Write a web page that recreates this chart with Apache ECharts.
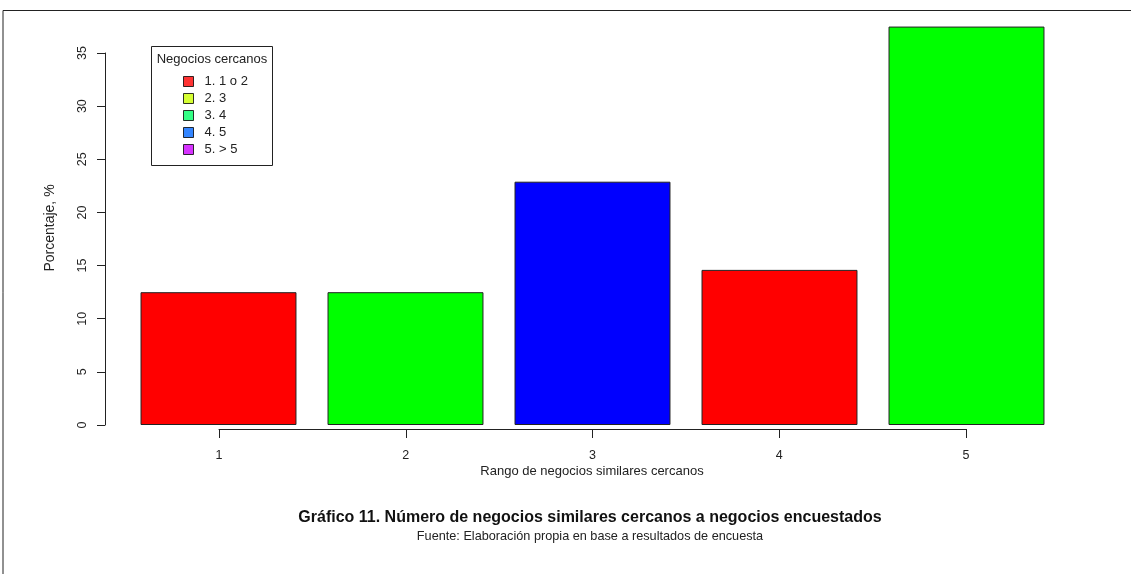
<!DOCTYPE html>
<html><head><meta charset="utf-8">
<script src="https://cdn.jsdelivr.net/npm/echarts@6/dist/echarts.min.js"></script>
<style>html,body{margin:0;padding:0;background:#fff}#c{width:1131px;height:574px}</style>
</head><body><div id="c"></div>
<script>
const categories = ['1','2','3','4','5'];
const values = [12.5, 12.5, 22.9, 14.6, 37.5];
const barColors = ['#FF0000','#00FF00','#0000FF','#FF0000','#00FF00'];
const legendNames = ['1. 1 o 2','2. 3','3. 4','4. 5','5. > 5'];
const legendColors = ['#FF0000','#CCFF00','#00FF66','#0066FF','#CC00FF'];
const yTicks = [0,5,10,15,20,25,30,35];

const FONT = '"Liberation Sans", Arial, sans-serif';
const chart = echarts.init(document.getElementById('c'));

const dummy = legendNames.map((n,i)=>({
  name:n, type:'scatter', xAxisIndex:1, yAxisIndex:1, data:[],
  itemStyle:{color:legendColors[i], borderColor:'#000', borderWidth:1}
}));

chart.setOption({
  animation:false,
  backgroundColor:'#fff',
  textStyle:{fontFamily:FONT},
  grid:[
    {left:125, right:71, top:0, bottom:149},
    {left:219, right:165, top:53, bottom:149},
    {left:219, right:165, top:53, bottom:145}
  ],
  xAxis:[
    {type:'category', gridIndex:0, data:categories, show:false},
    {type:'value', gridIndex:1, min:1, max:5, interval:1, show:false},
    {type:'value', gridIndex:2, min:1, max:5, interval:1,
     axisLine:{show:true, lineStyle:{color:'#222', width:1}},
     axisTick:{show:true, length:9, lineStyle:{color:'#222'}},
     axisLabel:{margin:20, fontSize:12.5, color:'#222', fontFamily:FONT},
     splitLine:{show:false}}
  ],
  yAxis:[
    {type:'value', gridIndex:0, min:0, max:40, show:false},
    {type:'value', gridIndex:1, min:0, max:35, interval:5, offset:114,
     axisLine:{show:true, lineStyle:{color:'#222', width:1}},
     axisTick:{show:true, length:8, lineStyle:{color:'#222'}},
     axisLabel:{margin:16, rotate:90, fontSize:12.5, color:'#222', fontFamily:FONT,
       formatter:v=>yTicks.includes(v)?String(v):''},
     splitLine:{show:false}},
    {type:'value', gridIndex:2, min:0, max:35, show:false}
  ],
  legend:{
    left:178, top:70, orient:'vertical', icon:'rect',
    itemWidth:10, itemHeight:10, itemGap:4,
    data:legendNames, selectedMode:false,
    textStyle:{fontSize:13, color:'#222', fontFamily:FONT, padding:[0,0,0,6]},
    itemStyle:{borderColor:'#000', borderWidth:1}
  },
  series:[
    {type:'bar', xAxisIndex:0, yAxisIndex:0, barCategoryGap:'16.6%',
     data:values.map((v,i)=>({value:v, itemStyle:{color:barColors[i]}})),
     itemStyle:{borderColor:'#222', borderWidth:1}},
    ...dummy
  ],
  graphic:[
    {type:'polyline', shape:{points:[[3,574],[3,10.5],[1131,10.5]]}, style:{stroke:'#222', lineWidth:1, fill:null}},
    {type:'rect', shape:{x:151.5, y:46.5, width:121, height:119}, style:{stroke:'#222', lineWidth:1, fill:null}},
    {type:'text', style:{text:'Negocios cercanos', x:212, y:59, align:'center', verticalAlign:'middle', font:'13px '+FONT, fill:'#222'}},
    {type:'text', style:{text:'Porcentaje, %', x:0, y:0, align:'center', verticalAlign:'middle', font:'14px '+FONT, fill:'#222'}, x:50, y:228, rotation:Math.PI/2},
    {type:'text', style:{text:'Rango de negocios similares cercanos', x:592, y:471, align:'center', verticalAlign:'middle', font:'13px '+FONT, fill:'#222'}},
    {type:'text', style:{text:'Gráfico 11. Número de negocios similares cercanos a negocios encuestados', x:590, y:518, align:'center', verticalAlign:'middle', font:'bold 16px '+FONT, fill:'#111'}},
    {type:'text', style:{text:'Fuente: Elaboración propia en base a resultados de encuesta', x:590, y:536, align:'center', verticalAlign:'middle', font:'12.7px '+FONT, fill:'#222'}}
  ]
});
</script></body></html>
